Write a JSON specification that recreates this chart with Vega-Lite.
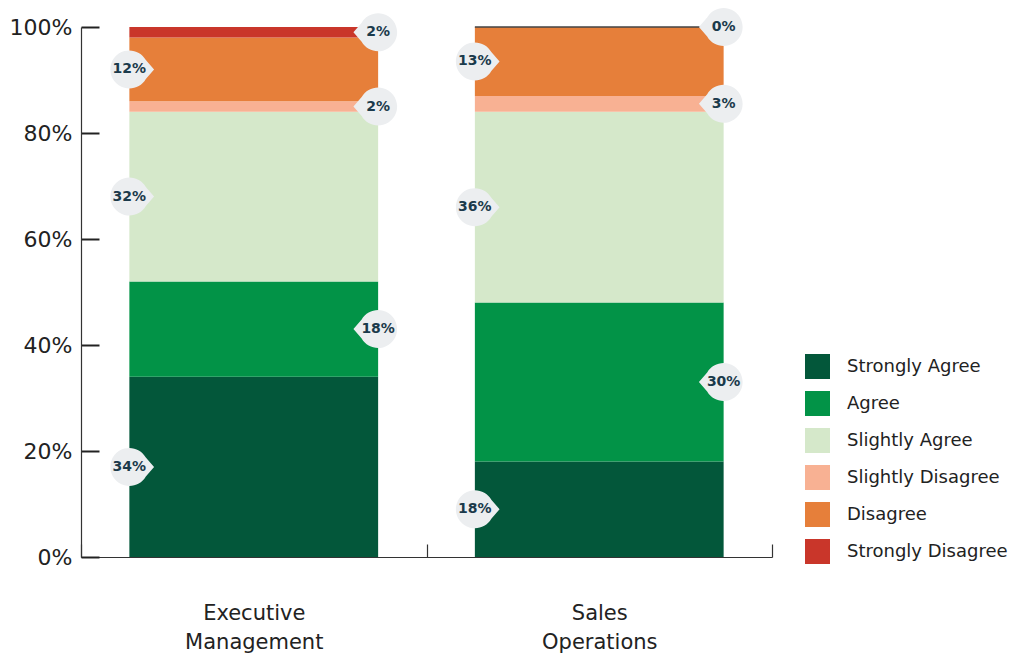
{
  "$schema": "https://vega.github.io/schema/vega-lite/v6.json",
  "width": 691,
  "height": 530,
  "autosize": "none",
  "padding": {"left": 81, "top": 27, "right": 247, "bottom": 100},
  "background": "white",
  "config": {"view": {"stroke": null}, "font": "DejaVu Sans"},
  "data": {
    "values": [
      {"group": "Executive Management", "category": "Strongly Agree", "value": 34},
      {"group": "Executive Management", "category": "Agree", "value": 18},
      {"group": "Executive Management", "category": "Slightly Agree", "value": 32},
      {"group": "Executive Management", "category": "Slightly Disagree", "value": 2},
      {"group": "Executive Management", "category": "Disagree", "value": 12},
      {"group": "Executive Management", "category": "Strongly Disagree", "value": 2},
      {"group": "Sales Operations", "category": "Strongly Agree", "value": 18},
      {"group": "Sales Operations", "category": "Agree", "value": 30},
      {"group": "Sales Operations", "category": "Slightly Agree", "value": 36},
      {"group": "Sales Operations", "category": "Slightly Disagree", "value": 3},
      {"group": "Sales Operations", "category": "Disagree", "value": 13},
      {"group": "Sales Operations", "category": "Strongly Disagree", "value": 0}
    ]
  },
  "transform": [
    {"calculate": "indexof(['Strongly Agree','Agree','Slightly Agree','Slightly Disagree','Disagree','Strongly Disagree'], datum.category)", "as": "k"},
    {"calculate": "datum.value + '%'", "as": "lbl"}
  ],
  "layer": [
    {
      "mark": {"type": "bar", "width": {"band": 0.72}, "stroke": "#444"},
      "encoding": {
        "x": {
          "field": "group", "type": "nominal",
          "sort": ["Executive Management", "Sales Operations"],
          "scale": {"paddingInner": 0, "paddingOuter": 0},
          "axis": {
            "title": null, "labelAngle": 0, "tickBand": "extent", "tickSize": -13,
            "labelPadding": 58, "labelExpr": "split(datum.label, ' ')",
            "labelFontSize": 21, "labelLineHeight": 29, "labelColor": "#222",
            "labelFont": "DejaVu Sans", "domainColor": "#333", "tickColor": "#333",
            "domainWidth": 1.2, "tickWidth": 1.2, "labelBaseline": "top"
          }
        },
        "y": {
          "field": "value", "type": "quantitative", "stack": "zero",
          "scale": {"domain": [0, 100], "nice": false},
          "axis": {
            "title": null, "values": [0, 20, 40, 60, 80, 100],
            "labelExpr": "datum.value + '%'", "grid": false, "ticks": true, "tickSize": -18,
            "labelPadding": 27, "labelFontSize": 22, "labelColor": "#222",
            "labelFont": "DejaVu Sans", "domainColor": "#333", "tickColor": "#222",
            "domainWidth": 1.2, "tickWidth": 2, "tickOpacity": 1, "zindex": 1
          }
        },
        "order": {"field": "k", "type": "quantitative", "sort": "ascending"},
        "strokeWidth": {"condition": {"test": "datum.value == 0", "value": 1.5}, "value": 0},
        "color": {
          "field": "category", "type": "nominal",
          "scale": {
            "domain": ["Strongly Agree", "Agree", "Slightly Agree", "Slightly Disagree", "Disagree", "Strongly Disagree"],
            "range": ["#03573A", "#029347", "#D5E8CA", "#F8B193", "#E67F3A", "#C9362A"]
          },
          "legend": {
            "orient": "none", "legendX": 724, "legendY": 327, "title": null,
            "symbolType": "square", "symbolSize": 625, "symbolStrokeWidth": 0,
            "symbolOpacity": 1, "labelFontSize": 18, "labelFont": "DejaVu Sans",
            "labelColor": "#222", "labelOffset": 17, "rowPadding": 12,
            "labelLimit": 300, "padding": 0
          }
        }
      }
    },
    {
      "transform": [
        {"stack": "value", "groupby": ["group"], "sort": [{"field": "k", "order": "ascending"}], "as": ["v0", "v1"]},
        {"calculate": "(datum.v0 + datum.v1) / 2", "as": "mid"},
        {"filter": "indexof(['Strongly Agree','Slightly Agree','Disagree'], datum.category) >= 0"}
      ],
      "encoding": {
        "x": {"field": "group", "type": "nominal", "bandPosition": 0.14},
        "y": {"field": "mid", "type": "quantitative", "title": null}
      },
      "layer": [
        {"mark": {"type": "point", "shape": "M1.3,0L0.866,0.5A1,1 0 1,1 0.866,-0.5Z", "filled": true, "fill": "#ECEEF0", "opacity": 1, "size": 1444, "strokeWidth": 0}},
        {"mark": {"type": "text", "font": "DejaVu Sans", "fontWeight": "bold", "fontSize": 14, "fill": "#1B3A4B", "align": "center", "baseline": "middle"},
         "encoding": {"text": {"field": "lbl"}}}
      ]
    },
    {
      "transform": [
        {"stack": "value", "groupby": ["group"], "sort": [{"field": "k", "order": "ascending"}], "as": ["v0", "v1"]},
        {"calculate": "(datum.v0 + datum.v1) / 2", "as": "mid"},
        {"filter": "indexof(['Agree','Slightly Disagree','Strongly Disagree'], datum.category) >= 0"}
      ],
      "encoding": {
        "x": {"field": "group", "type": "nominal", "bandPosition": 0.86},
        "y": {"field": "mid", "type": "quantitative", "title": null}
      },
      "layer": [
        {"mark": {"type": "point", "shape": "M-1.3,0L-0.866,-0.5A1,1 0 1,1 -0.866,0.5Z", "filled": true, "fill": "#ECEEF0", "opacity": 1, "size": 1444, "strokeWidth": 0}},
        {"mark": {"type": "text", "font": "DejaVu Sans", "fontWeight": "bold", "fontSize": 14, "fill": "#1B3A4B", "align": "center", "baseline": "middle"},
         "encoding": {"text": {"field": "lbl"}}}
      ]
    }
  ]
}
